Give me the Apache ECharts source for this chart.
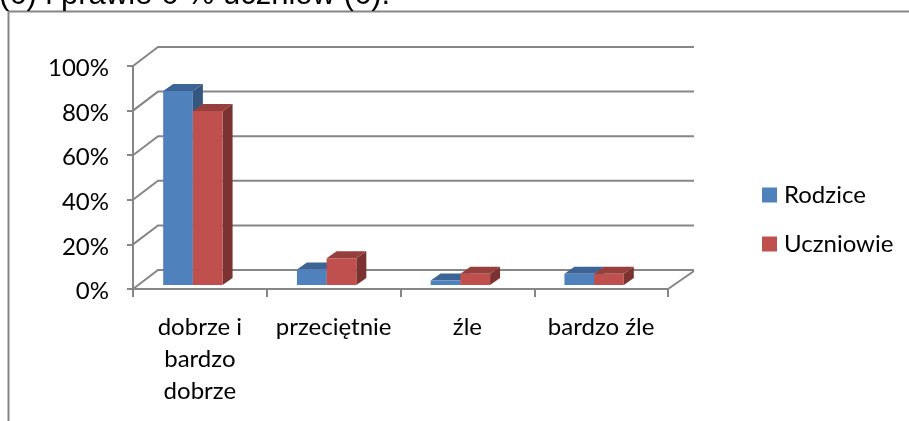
<!DOCTYPE html>
<html>
<head>
<meta charset="utf-8">
<style>
  html, body { margin: 0; padding: 0; background: #fff; overflow: hidden; }
  #chart { width: 909px; height: 421px; }
</style>
<script src="https://cdn.jsdelivr.net/npm/echarts@6/dist/echarts.min.js"></script>
</head>
<body>
<div id="chart"></div>
<script>
var categories = ['dobrze i\nbardzo\ndobrze', 'przeciętnie', 'źle', 'bardzo źle'];
var rodzice = [87, 7, 2, 5];
var uczniowie = [78, 12, 5, 5];
var yTicks = [0, 20, 40, 60, 80, 100];
var headText = '(6) i prawie 6 % uczniów (6).';

var font = 'Lato';
var gray = '#868686';

// fake 3d, same look as the old office chart
function wallItem(params, api) {
  var band = api.size([1, 0])[0];
  var first = api.coord([0, api.value(0)]);
  var left = first[0] - band / 2;
  var right = left + band * categories.length;
  var y = first[1];
  return {
    type: 'polyline',
    shape: { points: [[left, y], [left + 25, y - 19], [right + 26, y - 19]] },
    style: { fill: null, stroke: gray, lineWidth: 2 }
  };
}

function barItem(shift, front, top, side) {
  return function (params, api) {
    var c = api.coord([api.value(0), api.value(1)]);
    var base = api.coord([api.value(0), 0])[1] - 4;
    var y = c[1] - 4;
    var w = 29.7;
    var x = c[0] - 7 + shift * w;
    var dx = 10, dy = 7;
    return {
      type: 'group',
      children: [
        { type: 'polygon', shape: { points: [[x + w, y], [x + w + dx, y - dy], [x + w + dx, base - dy], [x + w, base]] }, style: { fill: side } },
        { type: 'polygon', shape: { points: [[x, y], [x + dx, y - dy], [x + w + dx, y - dy], [x + w, y]] }, style: { fill: top } },
        { type: 'rect', shape: { x: x, y: y, width: w, height: base - y }, style: { fill: front } }
      ]
    };
  };
}

var myChart = echarts.init(document.getElementById('chart'));
myChart.setOption({
  animation: false,
  textStyle: { fontFamily: font },
  grid: { left: 133, right: 241, top: 66, bottom: 132 },
  legend: {
    left: 757, top: 178, orient: 'vertical', itemWidth: 15, itemHeight: 15, itemGap: 25,
    data: [{ name: 'Rodzice', icon: 'rect' }, { name: 'Uczniowie', icon: 'rect' }],
    textStyle: { fontFamily: font, fontSize: 24, color: '#000', padding: [0, 0, 0, 2] }
  },
  xAxis: {
    type: 'category',
    data: categories,
    axisLine: { lineStyle: { color: gray, width: 2 } },
    axisTick: { show: true, length: 8, lineStyle: { color: gray, width: 2 } },
    axisLabel: { color: '#000', fontSize: 24, lineHeight: 32, margin: 22, interval: 0, fontFamily: font }
  },
  yAxis: {
    type: 'value', min: 0, max: 100, interval: 20,
    axisLine: { show: true, lineStyle: { color: gray, width: 2 } },
    axisTick: { show: true, length: 6, lineStyle: { color: gray, width: 2 } },
    splitLine: { show: false },
    axisLabel: {
      margin: 24,
      formatter: '{t|{value}%}',
      rich: { t: { color: '#000', fontSize: 24, fontFamily: font, padding: [5, 0, 0, 0] } }
    }
  },
  series: [
    { type: 'custom', name: 'walls', silent: true, z: 1, data: yTicks.map(function (t) { return [t]; }), encode: { y: 0 }, renderItem: wallItem },
    { type: 'custom', name: 'Rodzice', z: 2, itemStyle: { color: '#4f81bd' }, encode: { x: 0, y: 1 },
      data: rodzice.map(function (v, i) { return [i, v]; }),
      renderItem: barItem(-1, '#4f81bd', '#3c6494', '#35577f') },
    { type: 'custom', name: 'Uczniowie', z: 3, itemStyle: { color: '#c0504d' }, encode: { x: 0, y: 1 },
      data: uczniowie.map(function (v, i) { return [i, v]; }),
      renderItem: barItem(0, '#c0504d', '#963f3c', '#7a3331') }
  ],
  graphic: [
    { type: 'polyline', silent: true, shape: { points: [[8.5, 421], [8.5, 11.5], [909, 11.5]] }, style: { fill: null, stroke: gray, lineWidth: 2 } },
    { type: 'line', silent: true, shape: { x1: 668, y1: 289, x2: 694, y2: 271 }, style: { stroke: gray, lineWidth: 2 } },
    { type: 'text', silent: true, left: -1, top: -20, style: { text: headText, font: '31px "Liberation Sans"', fill: '#000' } }
  ]
});
</script>
</body>
</html>
